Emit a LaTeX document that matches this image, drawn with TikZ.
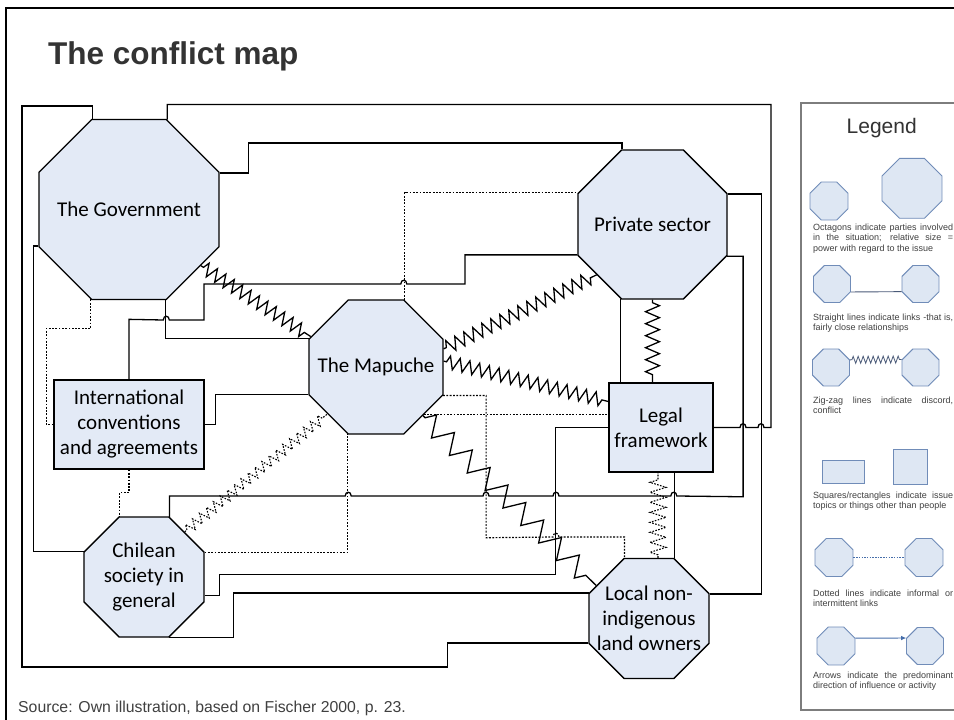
\documentclass[tikz,border=0pt]{standalone}
\usepackage{fontspec}
\setmainfont{Carlito}
\newfontfamily\arialfont{Liberation Sans}
\usetikzlibrary{shapes.geometric}
\usetikzlibrary{decorations.pathmorphing}
\usetikzlibrary{arrows.meta}

\definecolor{octfill}{RGB}{227,234,246}
\definecolor{legedge}{RGB}{112,140,184}
\definecolor{legfill}{RGB}{222,231,243}
\definecolor{legline}{RGB}{74,90,120}
\definecolor{legarrow}{RGB}{70,110,170}
\definecolor{legtext}{RGB}{64,64,64}
\definecolor{titlegray}{RGB}{51,51,51}
\definecolor{framegray}{RGB}{125,125,125}

% little bridge where a line jumps over another one
\newcommand{\hop}[3]{-- (#1,#3) .. controls (#1,{#3-5}) and (#2,{#3-5}) .. (#2,#3)}

\begin{document}
\begin{tikzpicture}[
    x=1pt, y=-1pt,
    party/.style={
        regular polygon,
        regular polygon sides=8,
        draw,
        line width=1.3pt,
        fill=octfill,
        inner sep=0pt,
        },
    issue/.style={
        rectangle,
        draw,
        line width=1.3pt,
        fill=octfill,
        inner sep=2pt,
        align=center,
        font=\fontsize{21}{25}\selectfont,
        },
    plabel/.style={
        align=center,
        inner sep=0pt,
        font=\fontsize{21}{25}\selectfont,
        },
    link/.style={
        line width=1.3pt,
        },
    loose/.style={
        line width=1.2pt,
        dash pattern=on 1.8pt off 1.5pt,
        },
    discord/.style={
        line width=1.3pt,
        decorate,
        decoration={zigzag, segment length=10pt, amplitude=6.5pt,
            pre length=3pt, post length=3pt},
        },
    legoct/.style={
        regular polygon,
        regular polygon sides=8,
        draw=legedge,
        line width=0.9pt,
        fill=legfill,
        inner sep=0pt,
        },
    legbox/.style={
        rectangle,
        draw=legedge,
        line width=0.9pt,
        fill=legfill,
        inner sep=0pt,
        },
    legtxt/.style={
        anchor=north west,
        inner sep=0pt,
        text width=140pt,
        align=justify,
        text=legtext,
        font=\arialfont\fontsize{9}{10.5}\selectfont,
        },
    ]

    \fill [white] (0,0) rectangle (954,720);
    \useasboundingbox (0,0) rectangle (954,720);
    \draw [line width=2.5pt] (6,730) -- (6,8) -- (964,8);

    \node [anchor=base west, inner sep=0pt, text=titlegray,
        font=\arialfont\bfseries\fontsize{31.5}{36}\selectfont] (title) at (48,64) {The conflict map};

    \node [party, minimum size=194.8pt, label={[plabel]center:The Government}] (gov) at (129,209.5) {};
    \node [party, minimum size=161.3pt, label={[plabel]center:Private sector}] (ps) at (652.5,224.5) {};
    \node [party, minimum size=145pt, label={[plabel]center:The Mapuche}] (map) at (376,367) {};
    \node [party, minimum size=129.9pt, label={[plabel]center:Chilean\\society in\\general}] (chl) at (144,577) {};
    \node [party, minimum size=129.9pt, label={[plabel]center:Local non-\\indigenous\\land owners}] (lo) at (649,618.5) {};
    \node [issue, minimum width=150pt, minimum height=89pt] (ic) at (129,424.5) {International\\conventions\\and agreements};
    \node [issue, minimum width=104pt, minimum height=89pt] (lf) at (661,427.5) {Legal\\framework};

    % links
    \draw [link] (gov.112.5) -- ++(0,-13) -| (22,667) -| ([xshift=-141pt]lo.202.5) -- (lo.202.5);
    \draw [link] (gov.67.5) -- ++(0,-15) -| (771,427.5) \hop{764}{758}{427.5} \hop{746}{740}{427.5} -- (lf.east);
    \draw [link] (gov.22.5) -- ++(29,0) -- ++(0,-30) -| (ps.112.5);
    \draw [link] (gov.292.5) |- (map.157.5);
    \draw [link] (gov.202.5) -- ++(-5,0) |- (chl.157.5);
    \draw [link] (ic.north) -- ++(0,-60) \hop{163.3}{169.3}{320} -- (204,320) -- (204,284) \hop{400.8}{406.8}{284} -- (465,284) |- (ps.202.5);
    \draw [link] (ic.east) -- ++(11,0) |- (map.202.5);
    \draw [link] (ps.22.5) -- ++(34,0) |- (lo.22.5);
    \draw [link] (ps.337.5) -- ++(16,0) -- ++(0,240.6) \hop{676.8}{670.8}{496} \hop{559}{553}{496} \hop{489}{483}{496} \hop{351.2}{345.2}{496} -| (chl.67.5);
    \draw [link] (chl.343) -- ++(15,0) -- ++(0,-21) -| ([xshift=-53pt]lf.west) -- (lf.west);
    \draw [link] (chl.292.5) -- ++(65,0) |- (lo.157.5);
    \draw [link] (ps.247.5) -- (ps.247.5 |- lf.north);
    \draw [link] (lo.67.5) -- (lo.67.5 |- lf.south);

    % informal links
    \draw [loose] (map.67.5) |- (ps.157.5);
    \draw [loose] (gov.247.5) -- ++(0,29) -| ([xshift=-7pt]ic.west) -- (ic.west);
    \draw [loose] (ic.south) -- ++(0,23) -| (chl.112.5);
    \draw [loose] (chl.22.5) -| (map.247.5);
    \draw [loose] (map.337.5) -- ++(43,0) -- ++(0,142.25) \hop{553}{559}{537} -| (lo.112.5);
    \draw [loose] (map.315) -- (map.315 -| lf.west);

    % discord
    \draw [discord] (gov.322) -- (map.155);
    \draw [discord] (map.15) -- (ps.222);
    \draw [discord] (map.5) -- ([yshift=26pt]lf.west);
    \draw [discord, decoration={segment length=25pt, amplitude=10pt}] (map.314) -- (lo.148);
    \draw [discord, decoration={segment length=12pt, amplitude=7pt}] (ps.south) -- (ps.south |- lf.north);
    \draw [discord, line width=1.1pt, dash pattern=on 1.6pt off 1.4pt, decoration={segment length=9pt, amplitude=5pt}] (chl.48) -- (map.224);
    \draw [discord, line width=1.1pt, dash pattern=on 1.6pt off 1.4pt, decoration={segment length=10pt, amplitude=8pt}] ([xshift=9pt]lo.north) -- ([xshift=9pt]lo.north |- lf.south);

    \node [anchor=base west, inner sep=0pt, text=legtext,
        font=\arialfont\fontsize{15.8}{18}\selectfont] (source) at (18,712) {Source: Own illustration, based on Fischer 2000, p. 23.};

    % legend
    \draw [framegray, line width=1.3pt] (801,103) rectangle (964,710);
    \node [anchor=base, inner sep=0pt, text=titlegray,
        font=\arialfont\fontsize{21}{25}\selectfont] (legtitle) at (881.7,133) {Legend};

    \node [legoct, minimum size=41.1pt] (sizeA) at (829,201) {};
    \node [legoct, minimum size=64.9pt] (sizeB) at (912,188.3) {};
    \node [legtxt] (sizeT) at (813,223.7) {Octagons indicate parties involved\linebreak in the situation; relative size =\linebreak power with regard to the issue};

    \node [legoct, minimum size=40pt] (lineA) at (832,284) {};
    \node [legoct, minimum size=40pt] (lineB) at (920.5,284) {};
    \draw [legline, line width=0.9pt] (lineA.337.5) -- (lineB.202.5);
    \node [legtxt] (lineT) at (813,313.7) {Straight lines indicate links -that is,\linebreak fairly close relationships};

    \node [legoct, minimum size=40pt] (zigA) at (831,367.5) {};
    \node [legoct, minimum size=40pt] (zigB) at (920.5,367.5) {};
    \draw [legline, line width=0.8pt, decorate, decoration={zigzag, segment length=5pt, amplitude=3.5pt, pre length=2pt, post length=2pt}] (zigA.22.5) -- (zigB.157.5);
    \node [legtxt] (zigT) at (813,396.7) {Zig-zag lines indicate discord,\linebreak conflict};

    \node [legbox, minimum width=42pt, minimum height=23pt] (rectA) at (843,472) {};
    \node [legbox, minimum width=34pt, minimum height=35pt] (rectB) at (910.7,466.5) {};
    \node [legtxt] (rectT) at (813,491.7) {Squares/rectangles indicate issue\linebreak topics or things other than people};

    \node [legoct, minimum size=41.1pt] (dotA) at (834,557.5) {};
    \node [legoct, minimum size=41.1pt] (dotB) at (924,557.5) {};
    \draw [legarrow, line width=0.9pt, dash pattern=on 1.5pt off 1.2pt] (dotA.east) -- (dotB.west);
    \node [legtxt] (dotT) at (813,589.7) {Dotted lines indicate informal or\linebreak intermittent links};

    \node [legoct, minimum size=41.1pt] (arrA) at (836,646) {};
    \node [legoct, minimum size=40pt] (arrB) at (925,646) {};
    \draw [legarrow, line width=0.9pt, -{Latex[length=5pt, width=4.5pt]}] (arrA.22.5) -- (arrB.157.5);
    \node [legtxt] (arrT) at (813,671.7) {Arrows indicate the predominant\linebreak direction of influence or activity};

\end{tikzpicture}
\end{document}
